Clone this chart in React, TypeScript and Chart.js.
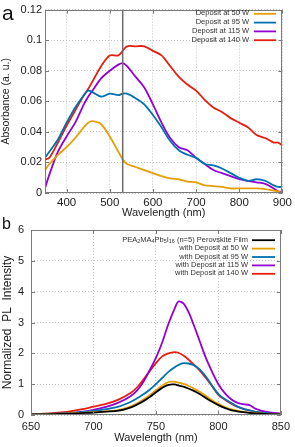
import React, { useEffect, useRef } from "react";
import { Chart, registerables } from "chart.js";

Chart.register(...registerables);

// ---------- Panel (a): absorbance ----------
const absWavelength = [350, 360, 380, 400, 420, 440, 450, 460, 480, 500, 520, 530, 540, 560, 580, 600, 620, 640, 660, 680, 700, 720, 740, 760, 780, 800, 820, 840, 860, 880, 890, 900];
const abs50W = [0.015, 0.019, 0.025, 0.030, 0.036, 0.043, 0.046, 0.047, 0.045, 0.037, 0.027, 0.022, 0.019, 0.017, 0.015, 0.013, 0.011, 0.0095, 0.009, 0.0075, 0.007, 0.005, 0.0045, 0.004, 0.003, 0.003, 0.003, 0.003, 0.0025, 0.0015, 0.001, 0.0];
const abs95W = [0.023, 0.027, 0.035, 0.046, 0.056, 0.064, 0.067, 0.066, 0.063, 0.065, 0.064, 0.065, 0.065, 0.062, 0.058, 0.051, 0.043, 0.034, 0.028, 0.025, 0.023, 0.019, 0.018, 0.016, 0.013, 0.010, 0.008, 0.009, 0.008, 0.005, 0.004, 0.004];
const abs115W = [0.003, 0.012, 0.027, 0.037, 0.046, 0.058, 0.063, 0.067, 0.075, 0.080, 0.084, 0.085, 0.083, 0.076, 0.069, 0.058, 0.046, 0.036, 0.030, 0.028, 0.023, 0.019, 0.015, 0.013, 0.011, 0.009, 0.008, 0.007, 0.006, 0.003, 0.001, 0.001];
const abs140W = [0.022, 0.023, 0.033, 0.044, 0.054, 0.064, 0.068, 0.073, 0.083, 0.090, 0.090, 0.093, 0.096, 0.096, 0.096, 0.093, 0.090, 0.083, 0.076, 0.071, 0.067, 0.061, 0.056, 0.053, 0.049, 0.046, 0.043, 0.038, 0.036, 0.033, 0.033, 0.031];
const absXTicks = [400, 500, 600, 700, 800, 900];
const absYTicks = [0, 0.02, 0.04, 0.06, 0.08, 0.1, 0.12];
const absMarker = 530;
const absLabels = ["Deposit at 50 W", "Deposit at 95 W", "Deposit at 115 W", "Deposit at 140 W"];

// ---------- Panel (b): PL ----------
const plWavelength = [650, 660, 670, 680, 690, 700, 710, 720, 730, 735, 740, 745, 750, 755, 760, 765, 768, 772, 776, 780, 785, 790, 795, 800, 805, 810, 815, 820, 825, 830, 840, 850];
const plFilm = [0.02, 0.02, 0.03, 0.04, 0.06, 0.08, 0.11, 0.14, 0.25, 0.34, 0.45, 0.58, 0.74, 0.88, 0.98, 0.99, 0.96, 0.92, 0.86, 0.79, 0.68, 0.55, 0.43, 0.32, 0.23, 0.16, 0.12, 0.09, 0.07, 0.05, 0.03, 0.02];
const pl50W = [0.02, 0.02, 0.03, 0.05, 0.07, 0.09, 0.12, 0.16, 0.28, 0.38, 0.5, 0.64, 0.8, 0.95, 1.07, 1.08, 1.05, 1.01, 0.95, 0.87, 0.75, 0.62, 0.48, 0.36, 0.26, 0.19, 0.14, 0.1, 0.08, 0.06, 0.03, 0.02];
const pl95W = [0.02, 0.03, 0.04, 0.06, 0.09, 0.13, 0.19, 0.27, 0.43, 0.54, 0.67, 0.82, 1.0, 1.2, 1.4, 1.55, 1.62, 1.68, 1.67, 1.62, 1.48, 1.25, 0.95, 0.68, 0.52, 0.4, 0.28, 0.2, 0.15, 0.1, 0.05, 0.03];
const pl115W = [0.02, 0.02, 0.03, 0.05, 0.1, 0.17, 0.26, 0.4, 0.62, 0.8, 1.08, 1.45, 1.85, 2.35, 2.95, 3.45, 3.68, 3.62, 3.35, 2.95, 2.4, 1.85, 1.4, 1.0, 0.72, 0.52, 0.4, 0.35, 0.32, 0.2, 0.09, 0.05];
const pl140W = [0.02, 0.04, 0.07, 0.11, 0.18, 0.27, 0.36, 0.5, 0.72, 0.9, 1.15, 1.42, 1.68, 1.9, 2.0, 2.04, 2.02, 1.93, 1.8, 1.65, 1.45, 1.2, 0.93, 0.65, 0.5, 0.37, 0.27, 0.2, 0.15, 0.1, 0.05, 0.03];
const plXTicks = [650, 700, 750, 800, 850];
const plYTicks = [0, 1, 2, 3, 4, 5, 6];
const plLabels = [
  "PEA_{2}MA_{4}Pb_{5}I_{16} (n=5) Perovskite Film",
  "with Deposit at 50 W",
  "with Deposit at 95 W",
  "with Deposit at 115 W",
  "with Deposit at 140 W",
];

const ORANGE = "#E69F00";
const BLUE = "#0072B2";
const PURPLE = "#9400D3";
const RED = "#E51E10";
const BLACK = "#000000";
const FONT = "'Liberation Sans', Arial, sans-serif";

function pts(xs: number[], ys: number[]) {
  return xs.map((x, i) => ({ x, y: ys[i] }));
}

function parseRich(label: string) {
  const segs: { text: string; sub: boolean }[] = [];
  const re = /_\{([^}]*)\}/g;
  let last = 0;
  let m: RegExpExecArray | null;
  while ((m = re.exec(label))) {
    if (m.index > last) segs.push({ text: label.slice(last, m.index), sub: false });
    segs.push({ text: m[1], sub: true });
    last = m.index + m[0].length;
  }
  if (last < label.length) segs.push({ text: label.slice(last), sub: false });
  return segs;
}

const framePlugin = {
  id: "frame",
  afterDraw(chart: any, _args: any, opts: any) {
    const { ctx, chartArea: ca, scales } = chart;
    ctx.save();
    if (opts.vline != null) {
      const px = scales.x.getPixelForValue(opts.vline);
      ctx.strokeStyle = "#6a6a6a";
      ctx.lineWidth = 1.5;
      ctx.beginPath();
      ctx.moveTo(px, ca.top);
      ctx.lineTo(px, ca.bottom);
      ctx.stroke();
    }
    ctx.strokeStyle = "#7a7a7a";
    ctx.lineWidth = 1;
    ctx.strokeRect(Math.round(ca.left) + 0.5, Math.round(ca.top) + 0.5, Math.round(ca.width) - 1, Math.round(ca.height) - 1);
    const tl = 4;
    ctx.beginPath();
    for (const t of scales.x.ticks) {
      const px = Math.round(scales.x.getPixelForValue(t.value)) + 0.5;
      ctx.moveTo(px, ca.bottom);
      ctx.lineTo(px, ca.bottom - tl);
      ctx.moveTo(px, ca.top);
      ctx.lineTo(px, ca.top + tl);
    }
    for (const t of scales.y.ticks) {
      const py = Math.round(scales.y.getPixelForValue(t.value)) + 0.5;
      ctx.moveTo(ca.left, py);
      ctx.lineTo(ca.left + tl, py);
      ctx.moveTo(ca.right, py);
      ctx.lineTo(ca.right - tl, py);
    }
    ctx.stroke();
    const lg = opts.legend;
    if (lg) {
      chart.data.datasets.forEach((ds: any, i: number) => {
        const cy = lg.top + i * lg.spacing;
        const segs = parseRich(ds.label);
        const mainFont = `${lg.size}px ${FONT}`;
        const subFont = `${lg.size * 0.72}px ${FONT}`;
        let total = 0;
        const widths = segs.map((s) => {
          ctx.font = s.sub ? subFont : mainFont;
          const w = ctx.measureText(s.text).width;
          total += w;
          return w;
        });
        let x = lg.right - total;
        ctx.fillStyle = "#333";
        ctx.textBaseline = "middle";
        ctx.textAlign = "left";
        segs.forEach((s, k) => {
          ctx.font = s.sub ? subFont : mainFont;
          ctx.fillText(s.text, x, s.sub ? cy + 2 : cy);
          x += widths[k];
        });
        ctx.strokeStyle = ds.borderColor;
        ctx.lineWidth = 1.8;
        ctx.beginPath();
        ctx.moveTo(lg.x1, cy + 0.5);
        ctx.lineTo(lg.x2, cy + 0.5);
        ctx.stroke();
      });
    }
    if (opts.letter) {
      ctx.fillStyle = "#111";
      ctx.font = `${opts.letter.size}px ${FONT}`;
      ctx.textAlign = "left";
      ctx.textBaseline = "alphabetic";
      ctx.fillText(opts.letter.text, opts.letter.x, opts.letter.y);
    }
    ctx.restore();
  },
};

function lineDs(label: string, xs: number[], ys: number[], color: string) {
  return {
    label,
    data: pts(xs, ys),
    borderColor: color,
    backgroundColor: color,
    borderWidth: 1.8,
    pointRadius: 0,
    tension: 0.3,
    fill: false,
  };
}

function axis(
  min: number,
  max: number,
  ticks: number[],
  size: number,
  tickSize: number,
  title: string,
  titleSize: number,
  pad: number,
  titlePad: any,
  fmt: (v: number) => string,
  horizontal: boolean
) {
  return {
    type: "linear",
    min,
    max,
    afterBuildTicks: (s: any) => {
      s.ticks = ticks.map((v) => ({ value: v }));
    },
    afterFit: (s: any) => {
      if (horizontal) s.height = size;
      else s.width = size;
    },
    grid: { color: "#c4c4c4", lineWidth: 1, drawTicks: false },
    border: { display: false, dash: [1, 2] },
    ticks: {
      padding: pad,
      color: "#222",
      font: { family: FONT, size: tickSize },
      maxRotation: 0,
      autoSkip: false,
      callback: (v: any) => fmt(Number(v)),
    },
    title: {
      display: true,
      text: title,
      color: "#222",
      font: { family: FONT, size: titleSize },
      padding: titlePad,
    },
  };
}

export default function App() {
  const refA = useRef<HTMLCanvasElement>(null);
  const refB = useRef<HTMLCanvasElement>(null);

  useEffect(() => {
    const chartA = new Chart(refA.current as HTMLCanvasElement, {
      type: "line",
      data: {
        datasets: [
          lineDs(absLabels[0], absWavelength, abs50W, ORANGE),
          lineDs(absLabels[1], absWavelength, abs95W, BLUE),
          lineDs(absLabels[2], absWavelength, abs115W, PURPLE),
          lineDs(absLabels[3], absWavelength, abs140W, RED),
        ],
      },
      options: {
        responsive: false,
        animation: false,
        events: [],
        layout: { padding: { top: 7, right: 10, left: 0, bottom: 0 } },
        scales: {
          x: axis(350, 900, absXTicks, 27, 11.5, "Wavelength (nm)", 11, 3, { top: 0, bottom: 0 }, (v) => String(v), true),
          y: axis(0, 0.12, absYTicks, 45, 11, "Absorbance (a. u.)", 10.5, 3, { top: 0, bottom: 0 }, (v) => String(+v.toFixed(2)), false),
        } as any,
        plugins: {
          legend: { display: false },
          tooltip: { enabled: false },
          frame: {
            vline: absMarker,
            legend: { top: 13.3, spacing: 8.8, right: 249, x1: 254, x2: 276, size: 7.5 },
            letter: { text: "a", x: 2, y: 20, size: 21 },
          },
        } as any,
      },
      plugins: [framePlugin],
    } as any);

    const chartB = new Chart(refB.current as HTMLCanvasElement, {
      type: "line",
      data: {
        datasets: [
          lineDs(plLabels[0], plWavelength, plFilm, BLACK),
          lineDs(plLabels[1], plWavelength, pl50W, ORANGE),
          lineDs(plLabels[2], plWavelength, pl95W, BLUE),
          lineDs(plLabels[3], plWavelength, pl115W, PURPLE),
          lineDs(plLabels[4], plWavelength, pl140W, RED),
        ],
      },
      options: {
        responsive: false,
        animation: false,
        events: [],
        layout: { padding: { top: 18, right: 10, left: 0, bottom: 0 } },
        scales: {
          x: axis(650, 850, plXTicks, 32, 11, "Wavelength (nm)", 11, 5, { top: 0, bottom: 2 }, (v) => String(v), true),
          y: axis(0, 6, plYTicks, 31, 11, "Normalized  PL  Intensity", 12, 7, { top: 0, bottom: 0 }, (v) => String(v), false),
        } as any,
        plugins: {
          legend: { display: false },
          tooltip: { enabled: false },
          frame: {
            legend: { top: 27.7, spacing: 8.4, right: 248, x1: 252, x2: 275, size: 7.5 },
            letter: { text: "b", x: 2, y: 17, size: 16 },
          },
        } as any,
      },
      plugins: [framePlugin],
    } as any);

    return () => {
      chartA.destroy();
      chartB.destroy();
    };
  }, []);

  return (
    <div style={{ position: "absolute", left: 0, top: 0, width: 295, height: 447, background: "#fff" }}>
      <canvas ref={refA} width={295} height={220} style={{ position: "absolute", left: 0, top: 0, width: 295, height: 220 }} />
      <canvas ref={refB} width={295} height={235} style={{ position: "absolute", left: 0, top: 212, width: 295, height: 235 }} />
    </div>
  );
}
